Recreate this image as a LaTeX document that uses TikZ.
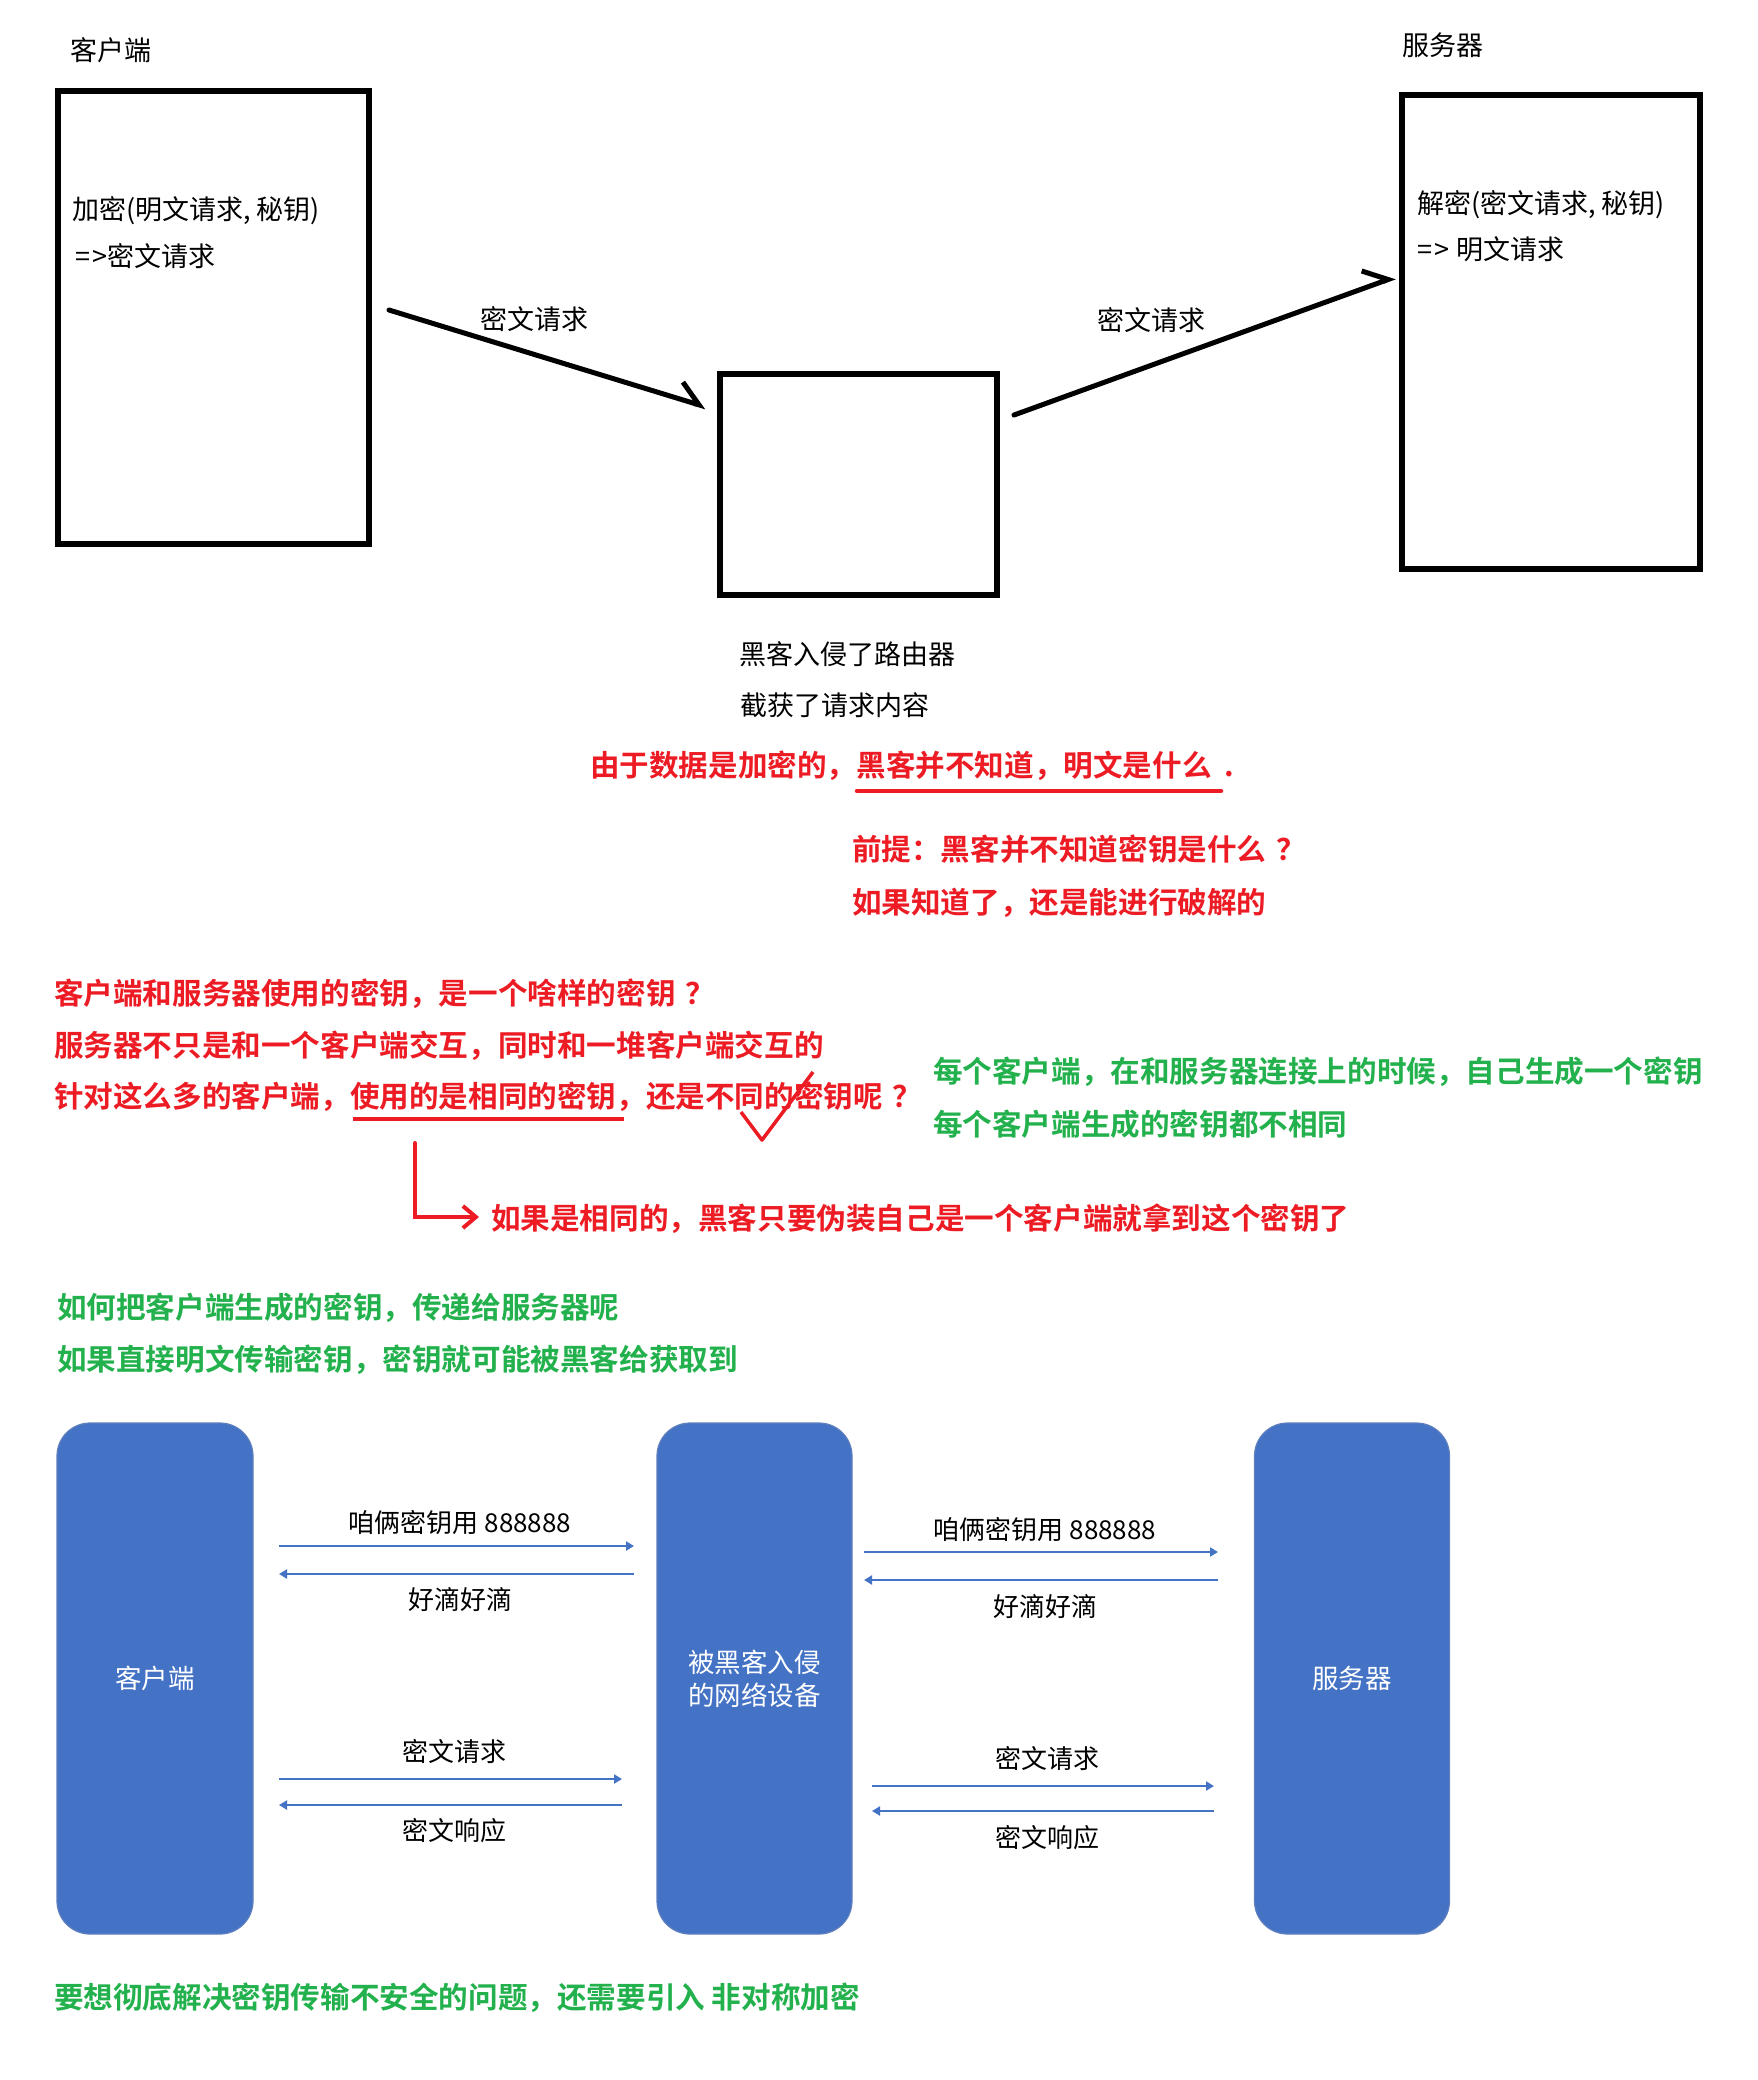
\documentclass[tikz,border=0pt]{standalone}
\usepackage{fontspec}
\setmainfont{Noto Sans CJK SC}[BoldFont={Noto Sans CJK SC Bold}]
\usetikzlibrary{arrows.meta}
\definecolor{pred}{HTML}{ED1C24}
\definecolor{pgreen}{HTML}{22B14C}
\definecolor{oblue}{HTML}{4472C4}
\definecolor{oedge}{HTML}{5F7FBD}
\newcommand{\qm}{\hspace{10pt}？}
\begin{document}
\begin{tikzpicture}[x=1pt,y=-1pt,
  every node/.style={inner sep=0pt, outer sep=0pt},
  lbl/.style={anchor=west, font=\fontsize{27pt}{33pt}\selectfont},
  redtxt/.style={anchor=west, text=pred, font=\fontsize{29.6pt}{36pt}\selectfont\bfseries},
  grntxt/.style={anchor=west, text=pgreen, font=\fontsize{29.6pt}{36pt}\selectfont\bfseries},
  frame/.style={draw, line width=5.5pt},
  hand/.style={line width=5pt, line cap=round, line join=round, -{Straight Barb[harpoon, length=22pt, width=34pt, line width=5pt]}},
  redline/.style={draw=pred, line width=4.5pt},
  bluebox/.style={fill=oblue, draw=oedge, line width=1.2pt, rounded corners=33pt},
  boxtxt/.style={text=white, align=center, font=\fontsize{26.5pt}{33pt}\selectfont},
  msg/.style={font=\fontsize{26pt}{32pt}\selectfont},
  flow/.style={draw=oblue, line width=2pt, -{Triangle[length=8pt, width=9pt]}}
]
\fill[white] (0,0) rectangle (1758,2080);
\useasboundingbox (0,0) rectangle (1758,2080);

% ---------- top part ----------
\node[lbl] (clientlbl) at (70,50) {客户端};
\node[lbl] (serverlbl) at (1402,45) {服务器};

\node[frame, minimum width=311pt, minimum height=453pt] (client) at (213.5,317.5) {};
\node[frame, minimum width=277pt, minimum height=221pt] (router) at (858.5,484.5) {};
\node[frame, minimum width=298pt, minimum height=474pt] (server) at (1551,332) {};

\node[lbl] (enc1) at (72,211) {加密(明文请求, 秘钥)};
\node[lbl] (enc2) at (75,256) {=\kern3pt>密文请求};
\node[lbl] (dec1) at (1417,205) {解密(密文请求, 秘钥)};
\node[lbl] (dec2) at (1417,249) {=\kern3pt> 明文请求};

\coordinate (a1s) at (389,310);
\coordinate (a1e) at (706,407);
\coordinate (a2s) at (1014,415);
\coordinate (a2e) at (1395,277);
\draw[hand] (a1s) -- (a1e);
\draw[hand] (a2s) -- (a2e);
\node[lbl] (m1) at (480,319) {密文请求};
\node[lbl] (m2) at (1097,320) {密文请求};

\node[lbl] (hack1) at (739,654) {黑客入侵了路由器};
\node[lbl] (hack2) at (740,705) {截获了请求内容};

% ---------- red notes ----------
\node[redtxt] (r1) at (590,766) {由于数据是加密的，黑客并不知道，明文是什么\hspace{13pt}.};
\coordinate (u1s) at (857,791);
\coordinate (u1e) at (1221,791);
\draw[redline, line cap=round] (u1s) -- (u1e);

\node[redtxt] (r2) at (852,849) {前提：黑客并不知道密钥是什么\qm};
\node[redtxt] (r3) at (852,903) {如果知道了，还是能进行破解的};

\node[redtxt] (q1) at (54,994) {客户端和服务器使用的密钥，是一个啥样的密钥\qm};
\node[redtxt] (q2) at (54,1046) {服务器不只是和一个客户端交互，同时和一堆客户端交互的};
\node[redtxt] (q3) at (54,1097) {针对这么多的客户端，使用的是相同的密钥，还是不同的密钥呢\qm};
\coordinate (u2s) at (353,1119);
\coordinate (u2e) at (624,1119);
\draw[redline] (u2s) -- (u2e);

\coordinate (c1) at (741,1112);
\coordinate (c2) at (762,1140);
\coordinate (c3) at (813,1072);
\draw[draw=pred, line width=3.5pt, line join=round] (c1) -- (c2) -- (c3);

\node[grntxt] (g1) at (933,1072) {每个客户端，在和服务器连接上的时候，自己生成一个密钥};
\node[grntxt] (g2) at (933,1124) {每个客户端生成的密钥都不相同};

\coordinate (e1) at (415,1143);
\coordinate (e2) at (479,1217);
\draw[draw=pred, line width=4pt, line cap=round, -{Straight Barb[length=13pt, width=22pt, line width=4pt]}] (e1) |- (e2);
\node[redtxt] (r4) at (491,1219) {如果是相同的，黑客只要伪装自己是一个客户端就拿到这个密钥了};

\node[grntxt] (g3) at (57,1308) {如何把客户端生成的密钥，传递给服务器呢};
\node[grntxt] (g4) at (57,1360) {如果直接明文传输密钥，密钥就可能被黑客给获取到};

% ---------- bottom diagram ----------
\node[bluebox, minimum width=196pt, minimum height=511pt] (bclient) at (155,1678.5) {};
\node[bluebox, minimum width=195pt, minimum height=511pt] (bmid) at (754.5,1678.5) {};
\node[bluebox, minimum width=195pt, minimum height=511pt] (bserver) at (1352,1678.5) {};
\node[boxtxt] (tclient) at (bclient.center) {客户端};
\node[boxtxt] (tmid) at (bmid.center) {被黑客入侵\\的网络设备};
\node[boxtxt] (tserver) at (bserver.center) {服务器};

\coordinate (l1a) at (279,1546); \coordinate (l1b) at (634,1546);
\coordinate (l2a) at (634,1574); \coordinate (l2b) at (279,1574);
\coordinate (l3a) at (279,1779); \coordinate (l3b) at (622,1779);
\coordinate (l4a) at (622,1805); \coordinate (l4b) at (279,1805);
\coordinate (r1a) at (864,1552); \coordinate (r1b) at (1218,1552);
\coordinate (r2a) at (1218,1580); \coordinate (r2b) at (864,1580);
\coordinate (r3a) at (872,1786); \coordinate (r3b) at (1214,1786);
\coordinate (r4a) at (1214,1811); \coordinate (r4b) at (872,1811);
\draw[flow] (l1a) -- (l1b);
\draw[flow] (l2a) -- (l2b);
\draw[flow] (l3a) -- (l3b);
\draw[flow] (l4a) -- (l4b);
\draw[flow] (r1a) -- (r1b);
\draw[flow] (r2a) -- (r2b);
\draw[flow] (r3a) -- (r3b);
\draw[flow] (r4a) -- (r4b);

\node[msg] (ml1) at (460,1523) {咱俩密钥用 888888};
\node[msg] (ml2) at (460,1600) {好滴好滴};
\node[msg] (ml3) at (454,1751) {密文请求};
\node[msg] (ml4) at (454,1831) {密文响应};
\node[msg] (mr1) at (1045,1530) {咱俩密钥用 888888};
\node[msg] (mr2) at (1045,1607) {好滴好滴};
\node[msg] (mr3) at (1047,1758) {密文请求};
\node[msg] (mr4) at (1047,1838) {密文响应};

\node[grntxt] (g5) at (54,1998) {要想彻底解决密钥传输不安全的问题，还需要引入 非对称加密};
\end{tikzpicture}
\end{document}
